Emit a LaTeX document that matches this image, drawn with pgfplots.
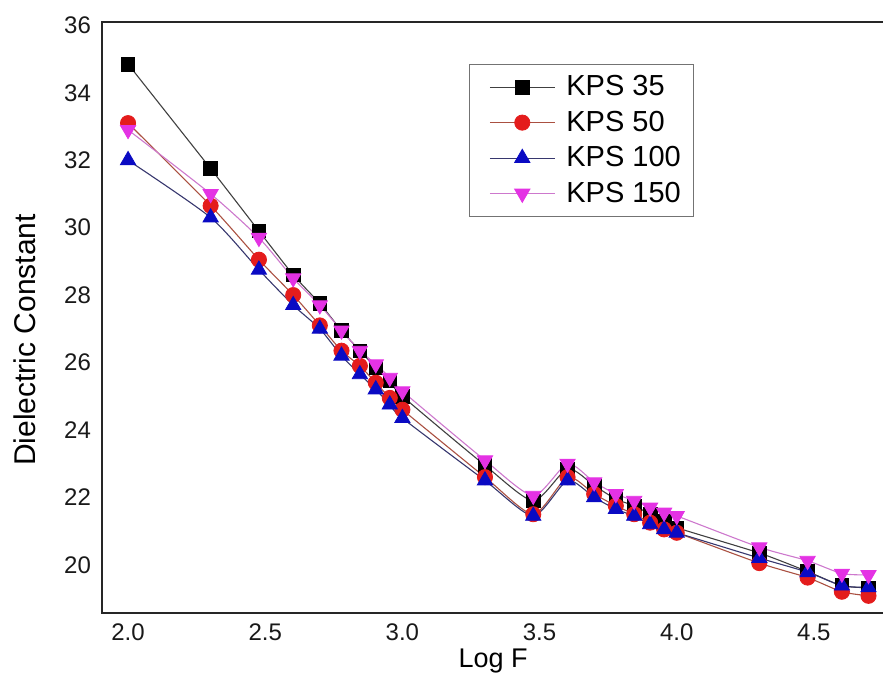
\documentclass[border=0pt]{standalone}
\usepackage{fontspec}
\setmainfont{Liberation Sans}
\usepackage{pgfplots}
\usepackage{pgfplotstable}
\pgfplotsset{compat=1.18}
\usetikzlibrary{calc}
\definecolor{kred}{RGB}{228,28,28}
\definecolor{kredline}{RGB}{170,80,65}
\definecolor{kblue}{RGB}{10,10,195}
\definecolor{kblueline}{RGB}{55,55,110}
\definecolor{kmag}{RGB}{228,50,228}
\definecolor{kmagline}{RGB}{205,120,205}

\pgfplotstableread{
x y
2.000 34.85
2.301 31.75
2.477 29.90
2.602 28.60
2.699 27.75
2.778 26.95
2.845 26.35
2.903 25.85
2.954 25.45
3.000 25.00
3.301 22.95
3.477 21.90
3.602 22.85
3.699 22.35
3.778 21.95
3.845 21.75
3.903 21.50
3.954 21.30
4.000 21.10
4.301 20.35
4.477 19.80
4.602 19.38
4.699 19.32
}\kpsA
\pgfplotstableread{
x y
2.000 33.10
2.301 30.65
2.477 29.05
2.602 28.00
2.699 27.10
2.778 26.35
2.845 25.90
2.903 25.40
2.954 24.95
3.000 24.60
3.301 22.60
3.477 21.50
3.602 22.60
3.699 22.10
3.778 21.75
3.845 21.50
3.903 21.25
3.954 21.05
4.000 20.95
4.301 20.05
4.477 19.62
4.602 19.20
4.699 19.08
}\kpsB
\pgfplotstableread{
x y
2.000 32.00
2.301 30.30
2.477 28.75
2.602 27.70
2.699 27.00
2.778 26.20
2.845 25.65
2.903 25.20
2.954 24.75
3.000 24.35
3.301 22.50
3.477 21.45
3.602 22.50
3.699 22.00
3.778 21.65
3.845 21.45
3.903 21.20
3.954 21.05
4.000 20.95
4.301 20.20
4.477 19.78
4.602 19.38
4.699 19.33
}\kpsC
\pgfplotstableread{
x y
2.000 32.90
2.301 31.00
2.477 29.70
2.602 28.50
2.699 27.70
2.778 26.95
2.845 26.35
2.903 25.95
2.954 25.55
3.000 25.15
3.301 23.10
3.477 22.05
3.602 23.00
3.699 22.45
3.778 22.10
3.845 21.90
3.903 21.70
3.954 21.55
4.000 21.45
4.301 20.52
4.477 20.12
4.602 19.74
4.699 19.70
}\kpsD

\begin{document}
\begin{tikzpicture}
\begin{axis}[
  scale only axis, width=391.2pt, height=295.5pt,
  xmin=1.905, xmax=4.757, ymin=18.57, ymax=36.1,
  xtick={2,2.5,3,3.5,4,4.5}, ytick={20,22,24,26,28,30,32,34,36},
  /pgf/number format/assume math mode=true,
  xticklabel style={yshift=-2pt, /pgf/number format/fixed, /pgf/number format/fixed zerofill, /pgf/number format/precision=1},
  yticklabel style={xshift=-2pt},
  tick label style={font=\fontsize{12}{14}\selectfont, black!90},
  major tick length=0pt,
  axis line style={line width=1.2pt, black!85},
  xlabel={Log F}, ylabel={Dielectric Constant},
  xlabel style={at={(rel axis cs:0.5,-0.0914)}, anchor=base, font=\fontsize{13.5}{16}\selectfont},
  ylabel style={at={(rel axis cs:-0.0845,0.462)}, anchor=base, font=\fontsize{15}{18}\selectfont},
  legend style={at={(rel axis cs:0.4686,0.929)}, anchor=north west, draw=black!55, line width=0.6pt,
    font=\fontsize{14.5}{17}\selectfont, inner xsep=4.5pt, inner ysep=3.5pt, row sep=2.1pt,
    cells={anchor=west}},
  legend image code/.code={\path (-5.5pt,0pt) (36pt,0pt);\draw[mark repeat=2,mark phase=2,#1] plot coordinates {(0pt,0pt) (16.25pt,0pt) (32.5pt,0pt)};},
  every axis plot/.append style={line width=0.55pt, smooth, tension=0.4},
]
\coordinate (ll) at (rel axis cs:0,0);
\coordinate (ur) at (rel axis cs:1,1);
\addplot[color=black!75, mark=square*, mark size=3.4pt, mark options={fill=black, draw=black, line width=0.4pt}] table {\kpsA};
\addlegendentry{KPS 35}
\addplot[color=kredline, mark=*, mark size=3.8pt, mark options={fill=kred, draw=kred, line width=0.4pt}] table {\kpsB};
\addlegendentry{KPS 50}
\addplot[color=kblueline, mark=triangle*, mark size=4.4pt, mark options={fill=kblue, draw=kblue, line width=0.4pt}] table {\kpsC};
\addlegendentry{KPS 100}
\addplot[color=kmagline, mark=triangle*, mark size=4.4pt, mark options={fill=kmag, draw=kmag, rotate=180, line width=0.4pt}] table {\kpsD};
\addlegendentry{KPS 150}
\end{axis}
\pgfresetboundingbox
\path[use as bounding box] ($(ll)+(-51pt,-33.5pt)$) rectangle ($(ur)+(-0.7pt,11pt)$);
\end{tikzpicture}
\end{document}
